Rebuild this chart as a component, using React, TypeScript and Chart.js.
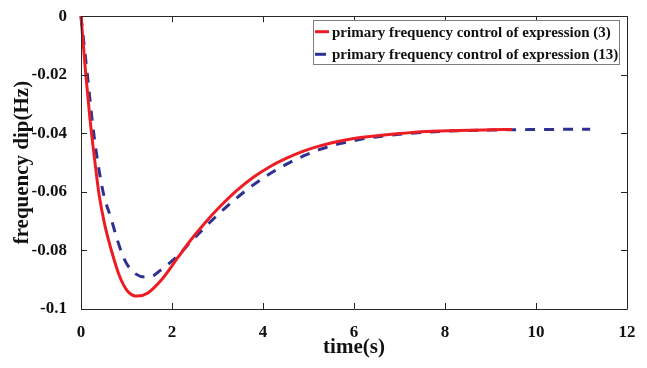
import React, { useEffect, useRef } from "react";
import { Chart, registerables } from "chart.js";

Chart.register(...registerables);

const seriesNames = [
  "primary frequency control of expression (3)",
  "primary frequency control of expression (13)",
];

const tRed = [0, 0.1, 0.2, 0.3, 0.4, 0.52, 0.67, 0.85, 1.03, 1.24, 1.47, 1.76, 2.13, 2.4, 2.69, 3.05, 3.42, 3.78, 4.15, 4.52, 4.89, 5.25, 5.62, 6.0, 6.35, 7.0, 7.6, 8.3, 9.0, 9.47];
const yRed = [0, -0.019, -0.0355, -0.049, -0.0612, -0.0711, -0.0801, -0.0889, -0.094, -0.0956, -0.0945, -0.0902, -0.0824, -0.0767, -0.0712, -0.0651, -0.0596, -0.0551, -0.0514, -0.0485, -0.0461, -0.0443, -0.0429, -0.0418, -0.0411, -0.0401, -0.0394, -0.039, -0.0388, -0.0387];

const tBlue = [0, 0.14, 0.26, 0.38, 0.5, 0.67, 0.8, 0.93, 1.03, 1.2, 1.4, 1.55, 1.76, 2.13, 2.4, 2.69, 3.05, 3.42, 3.78, 4.15, 4.52, 4.89, 5.25, 5.69, 6.2, 6.64, 7.1, 7.6, 8.3, 9.0, 10.0, 11.19];
const yBlue = [0, -0.02, -0.0375, -0.051, -0.061, -0.0695, -0.0765, -0.0822, -0.0852, -0.088, -0.0891, -0.0889, -0.0866, -0.0818, -0.0773, -0.0726, -0.0672, -0.0621, -0.0577, -0.0538, -0.0505, -0.0477, -0.0455, -0.0435, -0.0419, -0.0409, -0.0402, -0.0396, -0.0391, -0.0389, -0.0387, -0.0386];

const xTicks = [0, 2, 4, 6, 8, 10, 12];
const yTicks = [0, -0.02, -0.04, -0.06, -0.08, -0.1];

const RED = "#EE1D23";
const BLUE = "#2E3192";
const FONT = "'Liberation Serif', 'Times New Roman', serif";

const framePlugin = {
  id: "frame",
  afterDraw(chart: any) {
    const { ctx, chartArea, scales } = chart;
    const { left, right, top, bottom } = chartArea;
    ctx.save();
    ctx.strokeStyle = "#262626";
    ctx.lineWidth = 1;
    ctx.beginPath();
    ctx.rect(Math.round(left) + 0.5, Math.round(top) + 0.5, Math.round(right - left), Math.round(bottom - top));
    ctx.stroke();
    const tl = 6;
    ctx.beginPath();
    xTicks.forEach((v) => {
      const px = Math.round(scales.x.getPixelForValue(v)) + 0.5;
      ctx.moveTo(px, bottom);
      ctx.lineTo(px, bottom - tl);
      ctx.moveTo(px, top);
      ctx.lineTo(px, top + tl);
    });
    yTicks.forEach((v) => {
      const py = Math.round(scales.y.getPixelForValue(v)) + 0.5;
      ctx.moveTo(left, py);
      ctx.lineTo(left + tl, py);
      ctx.moveTo(right, py);
      ctx.lineTo(right - tl, py);
    });
    ctx.stroke();

    // legend
    const bx = 313.5, by = 20.5, bw = 306, bh = 44;
    ctx.fillStyle = "#ffffff";
    ctx.fillRect(bx, by, bw, bh);
    ctx.strokeStyle = "#7f7f7f";
    ctx.strokeRect(bx, by, bw, bh);
    const rows = [31.7, 54.3];
    const colors = [RED, BLUE];
    ctx.font = `bold 15px ${FONT}`;
    ctx.textBaseline = "middle";
    ctx.textAlign = "left";
    rows.forEach((ry, i) => {
      ctx.strokeStyle = colors[i];
      ctx.lineWidth = 3;
      ctx.beginPath();
      ctx.moveTo(315, ry);
      ctx.lineTo(i === 0 ? 329 : 326, ry);
      ctx.stroke();
      ctx.fillStyle = "#111111";
      ctx.fillText(seriesNames[i], 332, ry + 1);
    });
    ctx.restore();
  },
};

export default function App() {
  const ref = useRef<HTMLCanvasElement>(null);
  useEffect(() => {
    if (!ref.current) return;
    const chart = new Chart(ref.current, {
      type: "line",
      data: {
        datasets: [
          {
            label: seriesNames[0],
            data: tRed.map((t, i) => ({ x: t, y: yRed[i] })),
            borderColor: RED,
            borderWidth: 3,
            pointRadius: 0,
            cubicInterpolationMode: "monotone",
            clip: 6,
          },
          {
            label: seriesNames[1],
            data: tBlue.map((t, i) => ({ x: t, y: yBlue[i] })),
            borderColor: BLUE,
            borderWidth: 3,
            borderDash: [10, 9],
            pointRadius: 0,
            cubicInterpolationMode: "monotone",
            clip: 6,
          },
        ],
      },
      options: {
        responsive: false,
        animation: false,
        events: [],
        layout: { padding: { top: 12, right: 20, left: 0, bottom: 0 } },
        plugins: { legend: { display: false }, tooltip: { enabled: false } },
        scales: {
          x: {
            type: "linear",
            min: 0,
            max: 12,
            afterBuildTicks: (s: any) => {
              s.ticks = xTicks.map((v) => ({ value: v }));
            },
            afterFit: (s: any) => {
              s.height = 59;
            },
            grid: { display: false },
            border: { display: false },
            ticks: {
              color: "#111111",
              padding: 5,
              font: { family: FONT, size: 17, weight: "bold" },
              callback: (v: any) => String(v),
            },
            title: {
              display: true,
              text: "time(s)",
              color: "#111111",
              font: { family: FONT, size: 21, weight: "bold" },
              padding: { top: 0, bottom: 8 },
            },
          },
          y: {
            type: "linear",
            min: -0.1,
            max: 0,
            afterBuildTicks: (s: any) => {
              s.ticks = yTicks.map((v) => ({ value: v }));
            },
            afterFit: (s: any) => {
              s.width = 81;
            },
            grid: { display: false },
            border: { display: false },
            ticks: {
              color: "#111111",
              padding: 6,
              font: { family: FONT, size: 17, weight: "bold" },
              callback: (v: any) => (v === 0 ? "0" : String(Math.round(v * 100) / 100)),
            },
            title: {
              display: true,
              text: "frequency dip(Hz)",
              color: "#111111",
              font: { family: FONT, size: 21, weight: "bold" },
              padding: { top: 10, bottom: 0 },
            },
          },
        },
      },
      plugins: [framePlugin],
    } as any);
    return () => chart.destroy();
  }, []);
  return (
    <div style={{ position: "fixed", left: 0, top: 0, width: 647, height: 368, background: "#fff" }}>
      <canvas ref={ref} width={647} height={368} />
    </div>
  );
}
